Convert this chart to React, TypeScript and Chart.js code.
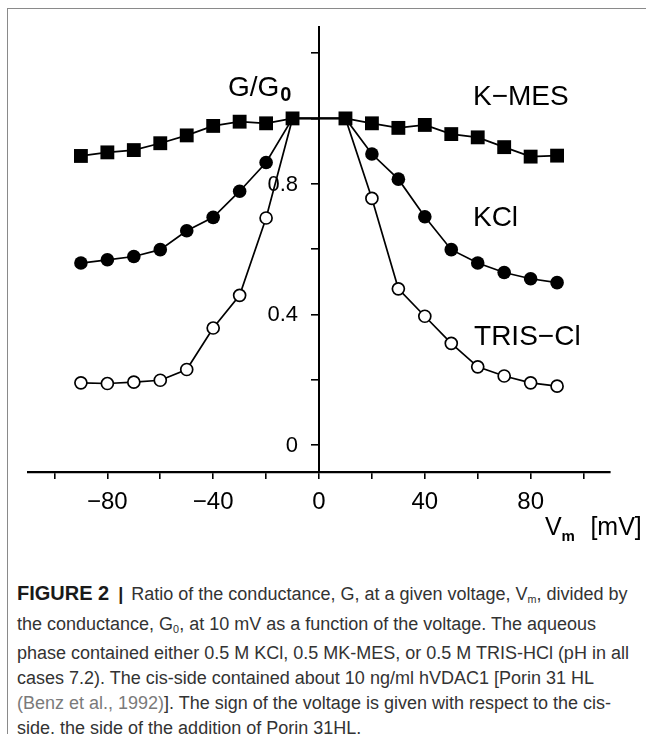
import React, { useEffect, useRef } from "react";
import { Chart, registerables } from "chart.js";

Chart.register(...registerables);

// ---- data ----
const voltages = [-90, -80, -70, -60, -50, -40, -30, -20, -10, 10, 20, 30, 40, 50, 60, 70, 80, 90];
const kmesValues = [0.885, 0.896, 0.903, 0.924, 0.948, 0.977, 0.99, 0.985, 1.0, 1.0, 0.985, 0.971, 0.98, 0.952, 0.942, 0.912, 0.883, 0.886];
const kclValues = [0.557, 0.567, 0.577, 0.598, 0.656, 0.697, 0.777, 0.865, 1.0, 1.0, 0.891, 0.814, 0.699, 0.598, 0.557, 0.528, 0.509, 0.497];
const trisValues = [0.19, 0.188, 0.192, 0.198, 0.231, 0.358, 0.458, 0.695, 1.0, 1.0, 0.755, 0.478, 0.394, 0.311, 0.239, 0.211, 0.19, 0.18];

const xTickValues = [-100, -80, -60, -40, -20, 0, 20, 40, 60, 80, 100];
const xTickLabels = ["", "−80", "", "−40", "", "0", "", "40", "", "80", ""];
const yTickValues = [0, 0.2, 0.4, 0.6, 0.8, 1.0, 1.2];
const yTickLabels = ["0", "", "0.4", "", "0.8", "", ""];

const seriesNames = ["K−MES", "KCl", "TRIS−Cl"];
const seriesLabelX = [58.2, 58.2, 58.6];
const seriesLabelY = [1.04, 0.67, 0.306];

const FONT = '"Liberation Sans", Arial, sans-serif';

const textPlugin = {
  id: "figureTexts",
  afterDraw(chart: any) {
    const { ctx, scales } = chart;
    const x = scales.x;
    const y = scales.y;
    ctx.save();
    ctx.fillStyle = "#000";

    // y tick labels, left of the centred axis
    ctx.textAlign = "right";
    ctx.textBaseline = "middle";
    ctx.font = `22px ${FONT}`;
    const axisX = x.getPixelForValue(0);
    yTickValues.forEach((v, i) => {
      if (yTickLabels[i]) ctx.fillText(yTickLabels[i], axisX - 21, y.getPixelForValue(v) + 1);
    });

    ctx.textAlign = "left";
    ctx.textBaseline = "alphabetic";
    ctx.font = `28px ${FONT}`;
    seriesNames.forEach((name, i) => {
      ctx.fillText(name, x.getPixelForValue(seriesLabelX[i]), y.getPixelForValue(seriesLabelY[i]));
    });
    // y axis title G/G0
    let gx = x.getPixelForValue(-34.4);
    const gy = y.getPixelForValue(1.068);
    ctx.font = `28px ${FONT}`;
    ctx.fillText("G/G", gx, gy);
    gx += ctx.measureText("G/G").width + 1;
    ctx.font = `bold 20px ${FONT}`;
    ctx.fillText("0", gx, gy + 5);
    // x axis title Vm [mV]
    let vx = x.getPixelForValue(85.4);
    const vy = y.getPixelForValue(-0.275);
    ctx.font = `25px ${FONT}`;
    ctx.fillText("V", vx, vy);
    vx += ctx.measureText("V").width;
    ctx.font = `bold 15px ${FONT}`;
    ctx.fillText("m", vx, vy + 6);
    ctx.font = `25px ${FONT}`;
    ctx.fillText("[mV]", x.getPixelForValue(102.6), vy);
    ctx.restore();
  },
};

export default function App() {
  const canvasRef = useRef<HTMLCanvasElement>(null);

  useEffect(() => {
    const canvas = canvasRef.current;
    if (!canvas) return;
    const pts = (vals: number[]) => voltages.map((v, i) => ({ x: v, y: vals[i] }));
    const hideAtTen = (ctx: any, r: number) =>
      Math.abs(voltages[ctx.dataIndex]) === 10 ? 0 : r;

    const chart = new Chart(canvas, {
      type: "line",
      data: {
        datasets: [
          {
            label: "K-MES",
            data: pts(kmesValues),
            borderColor: "#000",
            backgroundColor: "#000",
            borderWidth: 1.7,
            pointStyle: "rect",
            pointRadius: 9.8,
            pointBorderWidth: 0,
            pointBackgroundColor: "#000",
          },
          {
            label: "KCl",
            data: pts(kclValues),
            borderColor: "#000",
            backgroundColor: "#000",
            borderWidth: 1.7,
            pointStyle: "circle",
            pointRadius: (c: any) => hideAtTen(c, 6.8),
            pointBorderWidth: 0,
            pointBackgroundColor: "#000",
          },
          {
            label: "TRIS-Cl",
            data: pts(trisValues),
            borderColor: "#000",
            backgroundColor: "#fff",
            borderWidth: 1.7,
            pointStyle: "circle",
            pointRadius: (c: any) => hideAtTen(c, 6.0),
            pointBorderWidth: 1.7,
            pointBorderColor: "#000",
            pointBackgroundColor: "#fff",
          },
        ],
      },
      options: {
        animation: false,
        responsive: false,
        devicePixelRatio: 1,
        layout: { padding: { left: 28, right: 36, top: 27, bottom: 48 } },
        plugins: {
          legend: { display: false },
          tooltip: { enabled: false },
          title: { display: false },
        },
        elements: { line: { tension: 0 } },
        scales: {
          x: {
            type: "linear",
            position: "bottom",
            min: -110,
            max: 110,
            afterBuildTicks: (scale: any) => {
              scale.ticks = xTickValues.map((v) => ({ value: v }));
            },
            afterFit: (scale: any) => {
              scale.height = 60;
            },
            border: { display: true, color: "#000", width: 2.2 },
            grid: {
              display: true,
              drawOnChartArea: false,
              drawTicks: true,
              tickLength: 7,
              color: "#000",
              lineWidth: 1.6,
            },
            ticks: {
              autoSkip: false,
              maxRotation: 0,
              padding: 9,
              color: "#000",
              font: { family: FONT, size: 24 },
              callback: (v: any) => {
                const i = xTickValues.indexOf(Number(v));
                return i >= 0 ? xTickLabels[i] : "";
              },
            },
          },
          y: {
            type: "linear",
            position: { x: 0 } as any,
            min: -0.083,
            max: 1.28,
            afterBuildTicks: (scale: any) => {
              scale.ticks = yTickValues.map((v) => ({ value: v }));
            },
            border: { display: true, color: "#000", width: 2 },
            grid: {
              display: true,
              drawOnChartArea: false,
              drawTicks: true,
              tickLength: 7,
              color: "#000",
              lineWidth: 1.6,
            },
            ticks: {
              display: false,
            },
          },
        },
      },
      plugins: [textPlugin],
    } as any);

    return () => chart.destroy();
  }, []);

  const sub = { fontSize: "0.6em", verticalAlign: "-0.25em" } as const;

  return (
    <div
      style={{
        position: "fixed",
        left: 0,
        top: 0,
        width: 646,
        height: 734,
        background: "#fff",
        overflow: "hidden",
      }}
    >
      <div
        style={{
          position: "absolute",
          left: 7,
          top: 8,
          width: 639,
          height: 726,
          borderTop: "1.5px solid #8a8a8a",
          borderLeft: "1.5px solid #8a8a8a",
          boxSizing: "border-box",
        }}
      />
      <canvas
        ref={canvasRef}
        width={646}
        height={580}
        style={{ position: "absolute", left: 0, top: 0, width: 646, height: 580 }}
      />
      <div
        style={{
          position: "absolute",
          left: 17,
          top: 581,
          fontFamily: FONT,
          fontSize: 18,
          lineHeight: "25px",
          color: "#333",
          whiteSpace: "nowrap",
        }}
      >
        <b style={{ color: "#1a1a1a", fontSize: 20 }}>FIGURE 2</b>
        <b style={{ color: "#1a1a1a", margin: "0 8px 0 9px" }}>|</b>Ratio of the conductance, G, at a given voltage, V
        <span style={sub}>m</span>, divided by
        <br />
        the conductance, G<span style={sub}>0</span>, at 10 mV as a function of the voltage. The aqueous
        <br />
        phase contained either 0.5 M KCl, 0.5 MK-MES, or 0.5 M TRIS-HCl (pH in all
        <br />
        cases 7.2). The cis-side contained about 10 ng/ml hVDAC1 [Porin 31 HL
        <br />
        <span style={{ color: "#7a7a7a" }}>(Benz et al., 1992)</span>]. The sign of the voltage is given with respect to the cis-
        <br />
        side, the side of the addition of Porin 31HL.
      </div>
    </div>
  );
}
